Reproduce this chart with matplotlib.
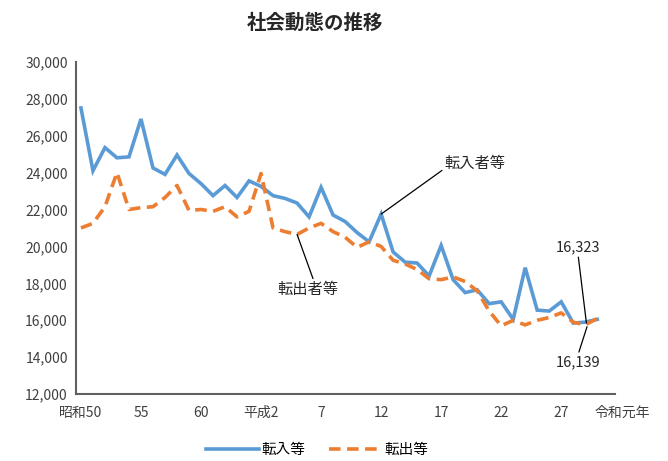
import numpy as np
import matplotlib
matplotlib.use("Agg")
import matplotlib.pyplot as plt

plt.rcParams['font.family'] = ['Noto Sans CJK JP', 'DejaVu Sans']

# 転入等 / 転出等 (昭和50年～)
inflow = [27500, 24100, 25350, 24800, 24850, 26900, 24250, 23900, 24950, 23950,
          23400, 22750, 23300, 22650, 23550, 23250, 22750, 22600, 22350, 21600,
          23200, 21700, 21350, 20750, 20250, 21750, 19700, 19150, 19100, 18400,
          20050, 18200, 17500, 17650, 16900, 17000, 16050, 18850, 16550, 16500,
          17000, 15850, 15900, 16050]
outflow = [21000, 21250, 22150, 24000, 22000, 22100, 22150, 22650, 23300, 21950,
           22000, 21900, 22150, 21600, 21900, 23950, 21000, 20800, 20650, 21000,
           21250, 20800, 20500, 19950, 20250, 20000, 19250, 19050, 18750, 18250,
           18200, 18350, 18100, 17600, 16500, 15700, 16000, 15750, 16000, 16150,
           16400, 15900, 15750, 16100]

tick_pos = [0, 5, 10, 15, 20, 25, 30, 35, 40]
tick_labels = ['昭和50', '55', '60', '平成2', '7', '12', '17', '22', '27']

blue = '#5B9BD5'
orange = '#ED7D31'
grey = '#404040'

x = np.arange(len(inflow))

fig = plt.figure(figsize=(6.68, 4.61), dpi=100)
ax = fig.add_axes([0.114, 0.145, 0.807, 0.721])

ax.plot(x, inflow, color=blue, lw=2.6, label='転入等', solid_joinstyle='miter')
ax.plot(x, outflow, color=orange, lw=2.6, dashes=(3.2, 1.8), label='転出等')

ax.set_xlim(-0.4, 44.5)
ax.set_ylim(12000, 30000)
ax.set_yticks(range(12000, 30001, 2000))
ax.set_yticklabels([f'{v:,}' for v in range(12000, 30001, 2000)])
ax.set_xticks(tick_pos)
ax.set_xticklabels(tick_labels)
ax.set_xticks(tick_pos[1:], minor=True)
ax.tick_params(axis='x', which='major', length=0, pad=8.5, labelsize=10, labelcolor=grey)
ax.tick_params(axis='x', which='minor', direction='in', length=4, width=1, color='#606060')
ax.tick_params(axis='y', length=0, pad=6, labelsize=10, labelcolor=grey)

for s in ['top', 'right']:
    ax.spines[s].set_visible(False)
for s in ['left', 'bottom']:
    ax.spines[s].set_color('#606060')
    ax.spines[s].set_linewidth(1.5)

ax.annotate('令和元年', xy=(45.1, 0), xycoords=('data', 'axes fraction'),
            xytext=(0, -8.5), textcoords='offset points', ha='center', va='top',
            fontsize=10, color=grey, annotation_clip=False)

line = dict(arrowstyle='-', color='black', lw=0.9, shrinkA=0, shrinkB=0)
ax.annotate('転入者等', xy=(25, inflow[25]), xytext=(30.3, 24500),
            ha='left', va='center', fontsize=11, color='#262626',
            arrowprops=dict(line, relpos=(0, 0.2)))
ax.annotate('転出者等', xy=(18, outflow[18]), xytext=(18.9, 17650),
            ha='center', va='center', fontsize=11, color='#262626',
            arrowprops=dict(line, relpos=(0.6, 1.0)))
ax.annotate('16,323', xy=(42.1, 15850), xytext=(41.4, 19950),
            ha='center', va='center', fontsize=10.5, color='#262626',
            arrowprops=dict(line, relpos=(0.5, 0.0)))
ax.annotate('16,139', xy=(42.15, 15650), xytext=(41.4, 13750),
            ha='center', va='center', fontsize=10.5, color='#262626',
            arrowprops=dict(line, relpos=(0.5, 1.0)))

fig.text(0.472, 0.95, '社会動態の推移', ha='center', va='center',
         fontsize=14, fontweight='bold', color='#262626')

fig.legend(loc='lower center', bbox_to_anchor=(0.475, -0.02), ncol=2, frameon=False,
           handlelength=3.6, columnspacing=1.6, handletextpad=0.2,
           prop={'size': 10.5})

fig.savefig('out.png', dpi=100)
